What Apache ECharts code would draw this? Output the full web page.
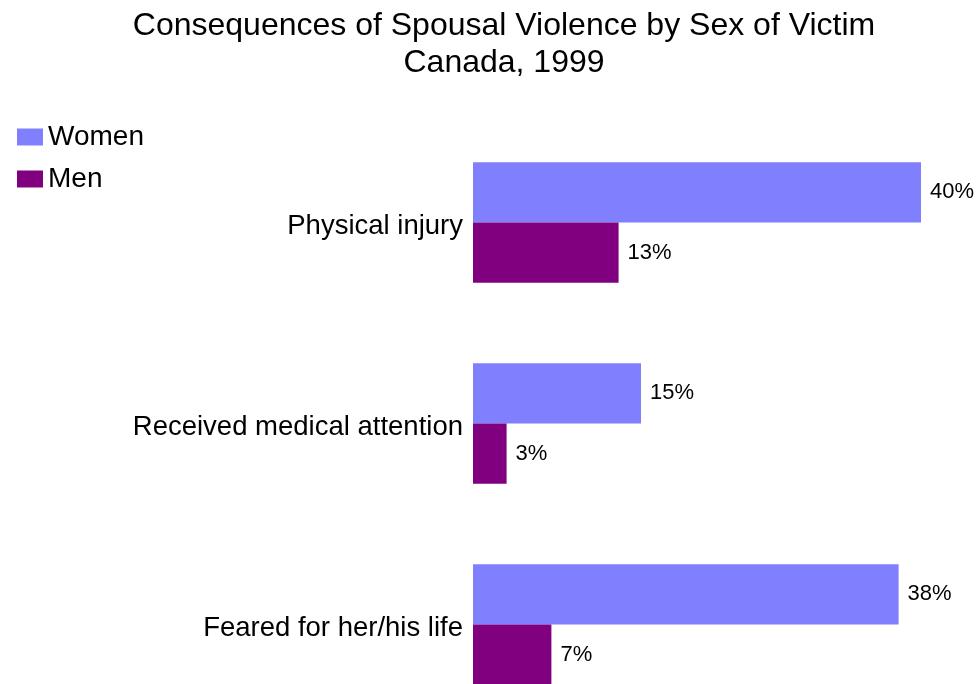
<!DOCTYPE html>
<html>
<head>
<meta charset="utf-8">
<script src="https://cdn.jsdelivr.net/npm/echarts@6/dist/echarts.min.js"></script>
<style>
  html, body { margin: 0; padding: 0; background: #ffffff; }
  #chart { width: 979px; height: 684px; }
</style>
</head>
<body>
<div id="chart"></div>
<script>
// Consequences of spousal violence, percentages by sex of victim
const categories = ['Physical injury', 'Received medical attention', 'Feared for her/his life'];
const women = [40, 15, 38];
const men = [13, 3, 7];
const seriesNames = ['Women', 'Men'];

const FONT = '"Liberation Sans", Arial, Helvetica, sans-serif';

const chart = echarts.init(document.getElementById('chart'));

const valueLabel = {
  show: true,
  position: 'right',
  distance: 9,
  formatter: '{c}%',
  fontSize: 22,
  color: '#000000',
  fontFamily: FONT
};

chart.setOption({
  animation: false,
  backgroundColor: '#ffffff',
  title: {
    text: 'Consequences of Spousal Violence by Sex of Victim\nCanada, 1999',
    left: 499,
    top: 3,
    textAlign: 'center',
    textStyle: {
      fontSize: 32,
      fontWeight: 'normal',
      color: '#000000',
      fontFamily: FONT,
      lineHeight: 37
    }
  },
  legend: {
    orient: 'vertical',
    left: 12,
    top: 118,
    itemWidth: 26,
    itemHeight: 17,
    itemGap: 14,
    icon: 'rect',
    data: seriesNames,
    textStyle: {
      fontSize: 28,
      color: '#000000',
      fontFamily: FONT
    }
  },
  grid: {
    left: 473,
    top: 122,
    width: 504,
    height: 603,
    outerBoundsMode: 'none',
    containLabel: false
  },
  xAxis: {
    type: 'value',
    min: 0,
    max: 45,
    show: false
  },
  yAxis: {
    type: 'category',
    inverse: true,
    data: categories,
    axisLine: { show: false },
    axisTick: { show: false },
    axisLabel: {
      color: '#000000',
      margin: 10,
      formatter: function (v) { return '{c|' + v + '}'; },
      rich: {
        c: {
          fontSize: 27.5,
          color: '#000000',
          fontFamily: FONT,
          padding: [8, 0, 0, 0]
        }
      }
    }
  },
  series: [
    {
      name: seriesNames[0],
      type: 'bar',
      data: women,
      barGap: '0%',
      barCategoryGap: '40%',
      itemStyle: { color: '#8080FF' },
      label: valueLabel
    },
    {
      name: seriesNames[1],
      type: 'bar',
      data: men,
      barGap: '0%',
      barCategoryGap: '40%',
      itemStyle: { color: '#800080' },
      label: valueLabel
    }
  ]
});
</script>
</body>
</html>
